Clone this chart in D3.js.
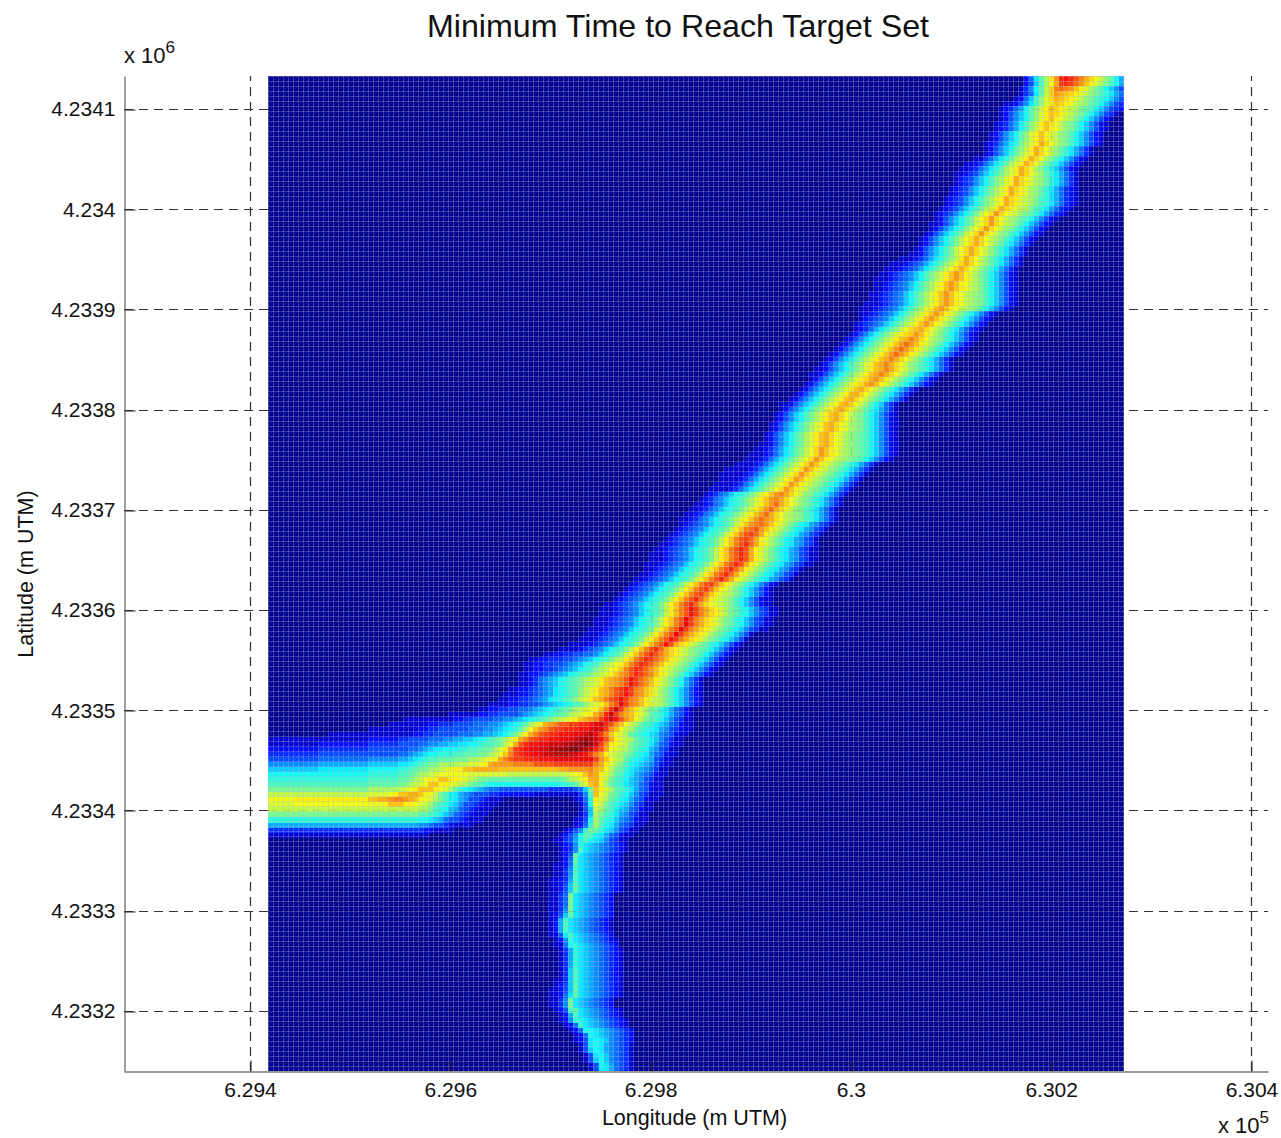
<!DOCTYPE html>
<html><head><meta charset="utf-8">
<script src="https://cdn.jsdelivr.net/npm/d3@7"></script>
<style>html,body{margin:0;padding:0;background:#fff}svg{display:block}text{font-family:"Liberation Sans",Arial,sans-serif;fill:#111}</style>
</head><body><svg id="c" width="1281" height="1138"></svg>
<script>
const titleText = "Minimum Time to Reach Target Set";
const xLabelText = "Longitude (m UTM)";
const yLabelText = "Latitude (m UTM)";
const xTicks = [629400, 629600, 629800, 630000, 630200, 630400];
const xTickLabels = ["6.294", "6.296", "6.298", "6.3", "6.302", "6.304"];
const yTicks = [4234100, 4234000, 4233900, 4233800, 4233700, 4233600, 4233500, 4233400, 4233300, 4233200];
const yTickLabels = ["4.2341", "4.234", "4.2339", "4.2338", "4.2337", "4.2336", "4.2335", "4.2334", "4.2333", "4.2332"];
const xDomain = [629274.2, 630416.5];
const yDomain = [4233140, 4234133];
const cellEast0 = 629418, cellNorth0 = 4234133, cellMetres = 5, cellCols = 171;
const levelChars = "0123456789abcdefghijklmnopqrstuvwxyz";
// Values, one entry per grid row from the top: "startColumn:levels"; columns not listed are level 0.
const gridRows = [
"151:259dgkotutrpnljhfda7","151:248cgjnstsqomkigeca7","150:136adhlpqpomkigeca864","150:1359dhlonmlkihfecb975","149:1258cfilnmlkihfecba864",
"147:112469cfikmlkjhgfdca8643","146:12357adfikmlkihgedca86432","146:12468adfikmlkihfeca86431","146:12468adfikmkjhgeca86421","145:12357acfhkmkjhfeca86421",
"145:12357acfhkmkjhfeca86421","144:12468adfikmkihfeca86421","144:12468adfikmkihfeca86421","143:123579begiknljhfeca86421","143:12468adfhknljhfdb97531",
"143:12468bdgiknljhfdb97531","141:113579bdgiknljgeca86421","139:1123579bdgiknljgeca86421","138:1123579bdgiknljgeca86421","137:1123468acegiknljhfdb97531",
"137:123468acegiknlkigfdb97531","137:123468acegiknlkigfdb97531","136:123468acegiknlkigfdb975321","136:123468acegiknlkigfdb975321","135:123468acegiknlkihgecb975321",
"135:123468acegiknlkihgecb975321","134:123468acegiknlkihgecb975321","133:123468acehjloljihfedb975321","133:12468acehjloljhgfdca86421","132:112468acehjloljhgeca86421",
"132:12468acehjloljhfeca86421","131:12468acehjloljhfeca86421","130:12468acehjlnljhgeca86421","130:12468acehjlnljhfdb97531","129:12468acehjlnljhfdb97531",
"128:112468acehjlnljhfdb97531","126:11123579bdfhknljhfdb97531","124:111234579bdfhjlnljhfdb97531","123:111234579bdfhjlnljhfdb97531","122:11234568acegikmomkigeca86421",
"121:111234568acegikmomkigeca86421","121:11234568acegikmomkjhgeca86421","121:11234568acegikmomkjhgeca86421","120:11234568acegikmomkjhgfeca86421","120:11234568acegikmomkjhgfeca86421",
"119:111234568acegikmomkjhgfeca86421","118:111234568acegikmomkjhgfeca86421","118:11234568acegikmomkigeca86421","118:1234568acegikmomkigeca86421","117:1234568acegikmomkigeca86421",
"117:123579bdfhjlmnljhfdb975321","116:12468acegiklmomkigeca86421","115:12468acegikmnpnljhfeca86421","114:12468acegikmoqomkigeca86421","113:12468acegikmoqomkigeca86421",
"112:12468acegikmoqomkigeca86421","111:12468acegikmnpnljhfdb97531","110:12468acegikmnpnljhfecb97531","109:112468acegikmnpnljhfecb97531","108:112468acegikmnpnljhfdb97531",
"108:12468acegiklnomkigeca86421","107:12468acegiklnomkigeca86421","106:12468acegikmnljhfdb97531","105:12468acegikmnljhfdb97531","104:12468acegikmnljhfdb97531",
"102:112468acegikmnljhfca8531","102:12468acegikmnljhfdb97531","101:12468acegikmnljhfeca86421","101:12468acegikmnljhfeca86421","100:12468acegikmnljigfeca86421",
"100:12468acegikmnljigfeca86421","99:12468acegikmnljigfedca86421","99:12468acegikmnljigfedca86421","98:112468acegikmnljigfedca86421","97:1123579bdfhjlomkjhgfedca86421",
"96:11123579bdfhjlomkjhgfedca86421","95:11123579bdfhjlomkjhgfedca86421","93:111123579bdfhjlomkihfecb97531","91:1111123579bdfhjlomkihfecb97531","90:1111123579bdfhjlomkihfecb97531",
"90:111123579bdfhjlomkihfecb97531","89:111123579bdfhjlomkihfecb97531","88:111123579bdfhjlomkihfecb97531","87:123568abcegikmopnljhfecb97531","86:123568abcegikmopnljhfecb97531",
"85:1123568abcegikmoqnljhfecb97531","84:1123568abcegikmoqnljhfecb97531","83:1123568abcegikmoqnljhgfecb97531","82:1123568abcegikmoqonljhgfecb97531","82:1234568abcehkmopqomkigeca976431",
"81:1234568abcehkmpqromkigeca976431","80:1234568abcehkmprsqnkigeca976431","79:1234568abcehkmprsqnkigeca976431","78:11234568abcehkmprtqnkigeca976431","77:11234568abcehkmprtrnkigeca9764311",
"76:111234568abcehkmprtrnkigeca9764311","76:111234568abcehkmprtrnkigeca9764311","75:111234568abcehkmprtrnkigeca9764311","75:11234568abcehkmprtqnkigeca976431","74:11234568abcehkmprtqnkigeca976431",
"73:11234568abcehkmprtqnkigeca976431","72:1234568abcehkmprspmkigeca86421","71:1234568abcehkmprspmkigeca86421","70:1234568abcehkmprspmkihgeca86421","69:1234568abcehkmprtqnkihgeca864211",
"67:11234568abcehkmprtqnljihgeca864211","66:111234568abcehkmpruspnlkigedba864311","66:111234568abcehkmpruspnlkigedba864311","65:111234568abcehkmprvspnlkigedba864311","65:111234568abcehkmprvspnlkigedba864311",
"64:111234568abcehkmprvspnlkigedba864311","63:111234568abcehkmprvspnlkigedba8641","62:111234568abcehkmpruspnlkigedba8641","60:1111234568abcehkmprurnlkigedba86421","58:1111234568abcehkmprtqnlkihfedca86421",
"55:112233445568abcehkmprtrpnlkihfeca86421","52:1122333445678abceghkmprtsqomkihfeca86421","51:112233445678abceghjkmprtsqomkihfeca86421","51:11223345678abceghjkmprtsqomkihfeca86421","50:1122345678abcdeghikmoprtsqomkigeca86421",
"50:11235678abcdeghikmnoprusqomkigeca7531","50:11235678abcdeghikmnoprusqomkigeca7531","48:1122345679abcdfhikmnprsuspomkigeca86421","47:11122345679abcdfhikmnprsuspomkigeca86421","46:11223345679abcdfhikmnprsuspomkihgeca86421",
"44:111122334456789abcdfhikmprvspomkihgeca86421","42:11223344556789abcdeghijkmptwsomkigedb975421","36:1111112233444456789abcdeghijknptwspnmkigdcb975421",
"27:111111111 36:12233444455667 50:89abcdeghijkmnop 66:suwuromjhedca864311",
"24:11111111 32:22333444455566 46:789abdgiknoprrssttuvw 67:tromjhgdcb98754211",
"20:1111111111 30:223344444455566 45:789abdgjmoprsstttuuvwv 67:somjhgdcba97643211",
"12:11111111111 23:111111 29:2233444445556677 45:89acehknprsttuuuvvwxv 66:spmjigdcba98654211",
"0:1111111111 10:1111111111 20:222222 26:334444555667788 41:9abcdegiknprsttuuvvvwxyxwu 67:rnkihgdcba864311",
"0:1111111111 10:2222222222 20:333333 26:44445566778899aa 42:bccdehjnrtuuvvwwwxxyyzywso 68:kjihedcb9754211",
"0:2222222222 10:3333333333 20:444444 26:445567899aaabbccdd 44:egikostuvvwwxxyyzzyxwtrnj 69:ihgecba864311",
"0:3333333333 10:4444444444 20:444444 26:556789aabbbccdddee 44:ghjmpstuuvvwwxxxwwvuspnki 69:hgedba9754211",
"0:4444444444 10:5555555555 20:666666 26:7789abccdddeeegghi 44:jknprsstttuuuvvv 60:vvvvv 65:somjhgdba9874311",
"0:6666666666 10:7777777777 20:888888 26:99abcdeegggghhiijk 44:noooopppprrrr 57:ssssssss 65:pnkigeca98764211",
"0:8888888888 10:9999999999 20:aaaaaa 26:bbcdeegghijkkmmnnn 44:nnmmmmmmmmmmmm 58:nnoooo 64:pnmjhedb98765311",
"0:aaaaaaaaaa 10:aaaaaaaaaa 20:bbbbbb 26:ccdegghijjjjjj 40:iiiiiiii 48:hhhhhhhhhh 58:hhijkmo 65:nkigdca97654211",
"0:bbbbbbbbbb 10:bbbbbbbbbb 20:cccccc 26:ddeghjkkmmkkjihgee 44:dddddddddddddd 58:deghikn 65:nkhecba8764311",
"0:cccccccccc 10:cccccccccc 20:dddddd 26:eeghijmmkkjihgedcb 44:aaaaaaaaaaaaa 57:abbcdgimn 66:jgdcb98754211",
"0:eeeeeeeeee 10:eeeeeeeeee 20:gggggg 26:hijkmmmkjigdba9876 44:55 46:4444444 53:444 56:33333 61:458em 66:kigdcb9754211",
"0:hhhhhhhhhh 10:hhhhhhhhhh 20:iiii 24:jkmmnnmkjheca9765444 44:33 46:2222222 53:111 56:11111 61:136cm 66:jhedba8643111",
"0:jjjjj 5:kkkkkkkkkkkkkkk 20:mmnnopponmkjigeca9764432111 61:125bk 66:igdca9754211",
"0:iiiii 5:jjjjjjjjjjjjjjjjjj 23:kmmmkkjihgdcb9864432111 62:14aj 66:hecb9864311",
"0:hhhhhhhhhh 10:hhhhhhhhhh 20:hhhhhhhhhh 30:ggecba875432111 62:148h 66:gdca8754211",
"0:eeeeeeeeee 10:eeeeeeeeee 20:eeeeeeeeee 30:ddcba875432111 62:138g 66:ecb9764311",
"0:bbbbbbbbbb 10:bbbbbbbbbb 20:bbbbbbbbbb 30:aa98754432111 61:124ag 66:dba8654211",
"0:7777777777 10:7777777777 20:7777777777 30:66544321111 61:125bg 66:ca9754311",
"0:3333333333 10:3333333333 20:3333333333 30:3221111 59:1246be 65:db9864311",
"0:1111111111 10:1111111111 20:1111111111 30:11 58:1246ad 64:ca9754211",
"57:11347ac 64:a9864311",
"58:1236b987654321","58:1236c987654321","58:124d987654321","58:125d987654321","57:1125c987654321",
"57:1136c987654321","57:1136c987654321","56:11237c987654321","56:11248d987654321","56:11248d987654321",
"56:1135e98765432","56:1135e98765432","56:1135e98765432","56:1136e98765432","56:1248d98765432",
"56:127c987654321","56:127c987654321","56:127c987654321","56:1149c98765432","57:126b987654321",
"57:115ab98765432","58:137b987654321","58:137b987654321","58:137b987654321","58:137b987654321",
"58:138c987654321","58:138c987654321","57:1138c987654321","57:1248d987654321","56:11248d987654321",
"56:11259d987654321","56:1136e98765432","56:1136e98765432","57:124cd987654321","58:127c987654321",
"58:126bb987654321","59:125b987654321","60:125aa98765432","61:125a98765432","61:1249a9865432",
"62:149a9765431","62:148a9765431","63:149a865431","63:148a865431","64:14a975431","64:149975431"
];
const jetStops = [0, 1.7, 9.5, 19.5, 30.5, 35];
const jetColors = ["#00008f", "#0000ff", "#00ffff", "#ffff00", "#ff0000", "#800000"];

const box = {l:124, r:1268, t:76, b:1071};
const svg = d3.select("#c");
const x = d3.scaleLinear().domain(xDomain).range([box.l, box.r]);
const y = d3.scaleLinear().domain(yDomain).range([box.b, box.t]);
const color = d3.scaleLinear().domain(jetStops).range(jetColors).interpolate(d3.interpolateRgb);

const defs = svg.append("defs");
defs.append("clipPath").attr("id","plot").append("rect").attr("x",box.l).attr("y",box.t).attr("width",box.r-box.l).attr("height",box.b-box.t);
const mesh = defs.append("pattern").attr("id","mesh").attr("patternUnits","userSpaceOnUse").attr("width",5).attr("height",5).attr("x",268).attr("y",76);
mesh.append("path").attr("d","M0 .5H5M.5 0V5").attr("stroke","#b4b4e0").attr("stroke-opacity",.3).attr("stroke-width",1).attr("fill","none");
mesh.append("path").attr("d","M0 5L5 0").attr("stroke","#b4b4e0").attr("stroke-opacity",.16).attr("stroke-width",1).attr("fill","none");

function gridLines(g){
  g.selectAll("line.gx").data(xTicks).join("line").attr("class","gx")
    .attr("x1",d=>Math.round(x(d))+.5).attr("x2",d=>Math.round(x(d))+.5).attr("y1",box.b).attr("y2",box.t);
  g.selectAll("line.gy").data(yTicks).join("line").attr("class","gy")
    .attr("y1",d=>Math.round(y(d))+.5).attr("y2",d=>Math.round(y(d))+.5).attr("x1",box.l).attr("x2",box.r);
  g.attr("stroke","#333").attr("stroke-width",1.2).attr("stroke-dasharray","9 6");
}
svg.append("g").call(gridLines);

// heat map
const cells = [];
gridRows.forEach((row,r)=>row.split(" ").forEach(seg=>{
  const [s,levels] = seg.split(":");
  [...levels].forEach((ch,i)=>{
    const v = levelChars.indexOf(ch);
    if(v>0) cells.push({col:+s+i,row:r,v});
  });
}));
const heat = svg.append("g").attr("clip-path","url(#plot)").attr("shape-rendering","crispEdges");
const east = c=>cellEast0+c*cellMetres, north = r=>cellNorth0-r*cellMetres;
heat.append("rect").attr("x",x(east(0))).attr("y",y(north(0)))
  .attr("width",x(east(cellCols))-x(east(0))).attr("height",y(north(gridRows.length))-y(north(0))).attr("fill",color(0));
heat.selectAll("rect.cell").data(cells).join("rect").attr("class","cell")
  .attr("x",d=>Math.round(x(east(d.col)))).attr("y",d=>Math.round(y(north(d.row))))
  .attr("width",d=>Math.round(x(east(d.col+1)))-Math.round(x(east(d.col))))
  .attr("height",d=>Math.round(y(north(d.row+1)))-Math.round(y(north(d.row))))
  .attr("fill",d=>color(d.v));
heat.append("rect").attr("x",x(east(0))).attr("y",y(north(0)))
  .attr("width",x(east(cellCols))-x(east(0))).attr("height",y(north(gridRows.length))-y(north(0))).attr("fill","url(#mesh)");
svg.append("g").attr("clip-path","url(#plot)").attr("opacity",.13).call(gridLines).selectAll("line.gy")
  .attr("x1",x(east(0))).attr("x2",x(east(cellCols)));

// axes
const axisX = svg.append("g").attr("transform",`translate(0,${box.b+.5})`)
  .call(d3.axisBottom(x).tickValues(xTicks).tickFormat((d,i)=>xTickLabels[i]).tickSize(-11).tickSizeOuter(0).tickPadding(11));
const axisY = svg.append("g").attr("transform",`translate(${box.l+.5},0)`)
  .call(d3.axisLeft(y).tickValues(yTicks).tickFormat((d,i)=>yTickLabels[i]).tickSize(-11).tickSizeOuter(0).tickPadding(9));
[axisX,axisY].forEach(a=>{
  a.selectAll("text").style("font-family",'"Liberation Sans"').style("font-size","21px").attr("fill","#111");
  a.select(".domain").attr("stroke","#777").attr("stroke-width",1.4);
  a.selectAll(".tick line").attr("stroke","#222");
});
axisX.selectAll(".tick line").attr("x1",d=>Math.round(x(d))-x(d)+.5).attr("x2",d=>Math.round(x(d))-x(d)+.5);
axisY.selectAll(".tick line").attr("y1",d=>Math.round(y(d))-y(d)+.5).attr("y2",d=>Math.round(y(d))-y(d)+.5);

// text
svg.append("text").attr("x",678).attr("y",37).attr("text-anchor","middle").style("font-size","32.2px").text(titleText);
svg.append("text").attr("x",694.5).attr("y",1125).attr("text-anchor","middle").style("font-size","21.5px").text(xLabelText);
svg.append("text").attr("transform","translate(33,574) rotate(-90)").attr("text-anchor","middle").style("font-size","21.5px").text(yLabelText);
function scaleNote(px,py,exp){
  const t = svg.append("text").attr("x",px).attr("y",py).style("font-size","22px");
  t.append("tspan").text("x 10");
  t.append("tspan").attr("dy",-10).style("font-size","17px").text(exp);
}
scaleNote(124,63,"6");
scaleNote(1218,1133,"5");
</script></body></html>
